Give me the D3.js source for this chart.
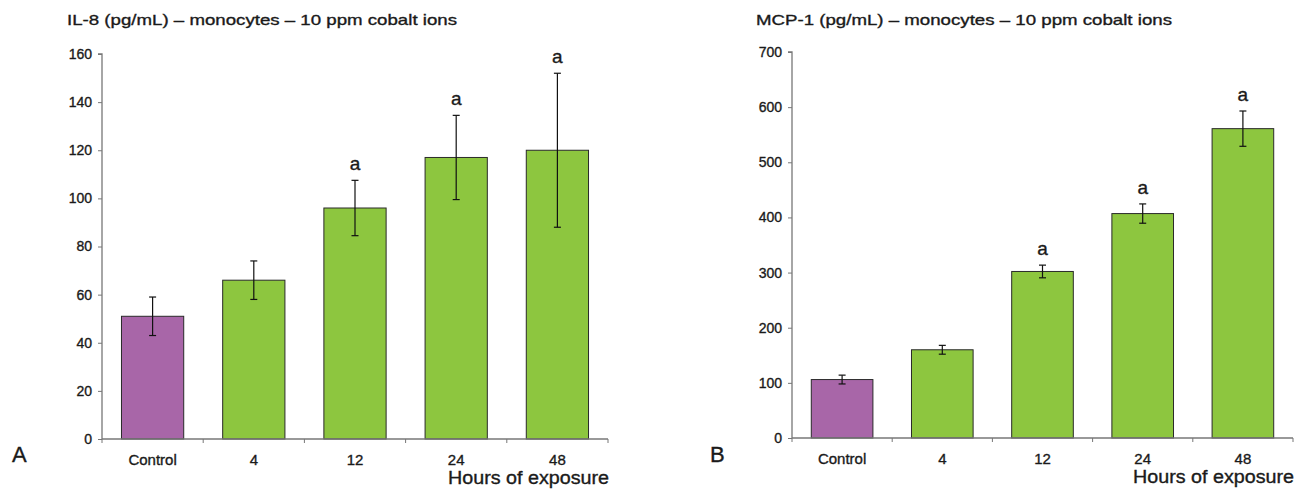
<!DOCTYPE html>
<html>
<head>
<meta charset="utf-8">
<script src="https://cdn.jsdelivr.net/npm/d3@7"></script>
<style>
  body { margin: 0; background: #fff; }
  svg { display: block; font-family: "Liberation Sans", Arial, Helvetica, sans-serif; }
  svg text { stroke: #1a1a1a; stroke-width: 0.35px; }
</style>
</head>
<body>
<div class="chart"></div>
<script>
// DATA ------------------------------------
const categories = ['Control', '4', '12', '24', '48'];

const il8Means = [51, 66, 96, 117, 120];
const il8Errors = [8, 8, 11.5, 17.5, 32];
const il8Marks = ['', '', 'a', 'a', 'a'];
const il8Ticks = [0, 20, 40, 60, 80, 100, 120, 140, 160];

const mcpMeans = [106, 160, 302, 407, 561];
const mcpErrors = [8, 8, 11.5, 17.5, 32];
const mcpMarks = ['', '', 'a', 'a', 'a'];
const mcpTicks = [0, 100, 200, 300, 400, 500, 600, 700];

const barColors = ['#a866a8', '#8dc63f', '#8dc63f', '#8dc63f', '#8dc63f'];

// CHART INIT ------------------------------
const width = 1298,
    height = 492;

let svg = d3
    .select('.chart')
    .append('svg')
    .attr('width', width)
    .attr('height', height);

// draw one panel
function panel(opts) {
    const g = svg.append('g');

    const xScale = d3.scaleBand()
        .domain(categories)
        .range([opts.left, opts.right])
        .padding(0);

    const yScale = d3.scaleLinear()
        .domain([0, d3.max(opts.ticks)])
        .range([opts.bottom, opts.top]);

    const barW = xScale.bandwidth() * 0.615;
    const data = categories.map((c, i) => ({
        cat: c, mean: opts.means[i], err: opts.errors[i], mark: opts.marks[i], color: barColors[i]
    }));

    // title
    g.append('text')
        .attr('x', opts.titleX)
        .attr('y', 25)
        .attr('font-size', 15)
        .attr('fill', '#1a1a1a')
        .attr('textLength', opts.titleW)
        .attr('lengthAdjust', 'spacingAndGlyphs')
        .text(opts.title);

    // y axis
    const yAxis = d3.axisLeft(yScale)
        .tickValues(opts.ticks)
        .tickSize(4)
        .tickPadding(6)
        .tickFormat(d3.format('d'));

    const yDisplay = g.append('g')
        .attr('transform', `translate(${opts.left},0)`)
        .call(yAxis);
    yDisplay.select('.domain').attr('stroke', '#777').attr('stroke-width', 1.3)
        .attr('d', `M0,${opts.bottom}V${opts.top}H-4`);
    yDisplay.selectAll('.tick line').attr('stroke', '#777');
    yDisplay.selectAll('.tick text')
        .attr('font-size', 14)
        .attr('font-family', '"Liberation Sans", Arial, sans-serif')
        .attr('fill', '#1a1a1a');

    // bars
    g.selectAll('rect.bar')
        .data(data)
        .enter()
        .append('rect')
        .attr('class', 'bar')
        .attr('x', d => xScale(d.cat) + (xScale.bandwidth() - barW) / 2)
        .attr('y', d => yScale(d.mean))
        .attr('width', barW)
        .attr('height', d => opts.bottom - yScale(d.mean))
        .attr('fill', d => d.color)
        .attr('stroke', '#2a2a2a')
        .attr('stroke-width', 1);

    // x axis with ticks at band edges
    const edges = categories.map(c => xScale(c)).concat([opts.right]);
    g.append('line')
        .attr('x1', opts.left)
        .attr('x2', opts.right)
        .attr('y1', opts.bottom)
        .attr('y2', opts.bottom)
        .attr('stroke', '#777')
        .attr('stroke-width', 1.3);
    g.selectAll('line.xtick')
        .data(edges)
        .enter()
        .append('line')
        .attr('class', 'xtick')
        .attr('x1', d => d)
        .attr('x2', d => d)
        .attr('y1', opts.bottom)
        .attr('y2', opts.bottom + 4)
        .attr('stroke', '#777');

    g.selectAll('text.cat')
        .data(data)
        .enter()
        .append('text')
        .attr('class', 'cat')
        .attr('x', d => xScale(d.cat) + xScale.bandwidth() / 2)
        .attr('y', opts.bottom + 26)
        .attr('text-anchor', 'middle')
        .attr('font-size', 15)
        .attr('fill', '#1a1a1a')
        .text(d => d.cat);

    // error bars
    const cap = 3.5;
    const err = g.selectAll('g.err')
        .data(data)
        .enter()
        .append('g')
        .attr('class', 'err')
        .attr('stroke', '#111')
        .attr('stroke-width', 1.2);
    err.append('line')
        .attr('x1', d => xScale(d.cat) + xScale.bandwidth() / 2)
        .attr('x2', d => xScale(d.cat) + xScale.bandwidth() / 2)
        .attr('y1', d => yScale(d.mean + d.err))
        .attr('y2', d => yScale(d.mean - d.err));
    err.append('line')
        .attr('x1', d => xScale(d.cat) + xScale.bandwidth() / 2 - cap)
        .attr('x2', d => xScale(d.cat) + xScale.bandwidth() / 2 + cap)
        .attr('y1', d => yScale(d.mean + d.err))
        .attr('y2', d => yScale(d.mean + d.err));
    err.append('line')
        .attr('x1', d => xScale(d.cat) + xScale.bandwidth() / 2 - cap)
        .attr('x2', d => xScale(d.cat) + xScale.bandwidth() / 2 + cap)
        .attr('y1', d => yScale(d.mean - d.err))
        .attr('y2', d => yScale(d.mean - d.err));

    // significance letters
    g.selectAll('text.sig')
        .data(data.filter(d => d.mark))
        .enter()
        .append('text')
        .attr('class', 'sig')
        .attr('x', d => xScale(d.cat) + xScale.bandwidth() / 2)
        .attr('y', d => yScale(d.mean + d.err) - 10)
        .attr('text-anchor', 'middle')
        .attr('font-size', 19)
        .attr('fill', '#1a1a1a')
        .text(d => d.mark);

    // x axis title
    g.append('text')
        .attr('x', opts.right + 1)
        .attr('y', opts.bottom + 45)
        .attr('text-anchor', 'end')
        .attr('font-size', 18)
        .attr('fill', '#1a1a1a')
        .attr('textLength', 161)
        .attr('lengthAdjust', 'spacingAndGlyphs')
        .text('Hours of exposure');

    // panel letter
    g.append('text')
        .attr('x', opts.letterX)
        .attr('y', 462)
        .attr('font-size', 22)
        .attr('fill', '#1a1a1a')
        .text(opts.letter);
}

panel({
    title: 'IL-8 (pg/mL) \u2013 monocytes \u2013 10 ppm cobalt ions',
    titleX: 67, titleW: 390,
    means: il8Means, errors: il8Errors, marks: il8Marks, ticks: il8Ticks,
    left: 102, right: 608, top: 54, bottom: 439,
    letter: 'A', letterX: 12
});

panel({
    title: 'MCP-1 (pg/mL) \u2013 monocytes \u2013 10 ppm cobalt ions',
    titleX: 756, titleW: 416,
    means: mcpMeans, errors: mcpErrors, marks: mcpMarks, ticks: mcpTicks,
    left: 792, right: 1293, top: 52, bottom: 438,
    letter: 'B', letterX: 710
});
</script>
</body>
</html>
